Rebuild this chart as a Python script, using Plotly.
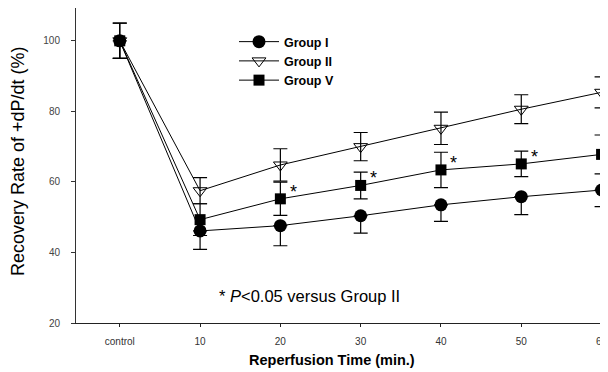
import plotly.graph_objects as go

categories = ["control", "10", "20", "30", "40", "50", "60"]
group1 = [100, 46.1, 47.6, 50.4, 53.5, 55.8, 57.7]
group1_err = [5.0, 5.2, 5.7, 4.9, 4.7, 5.1, 4.7]
group2 = [100, 57.5, 64.8, 70.0, 75.2, 80.6, 85.4]
group2_err = [5.0, 3.7, 4.6, 4.0, 4.6, 4.1, 4.4]
group5 = [100, 49.3, 55.2, 59.0, 63.4, 65.1, 67.8]
group5_err = [5.0, 4.5, 4.7, 3.8, 5.0, 3.6, 5.5]
group5_sig = [False, False, True, True, True, True, True]
y_ticks = [20, 40, 60, 80, 100]

x = list(range(len(categories)))
FONT = "Liberation Sans, Arial, sans-serif"

# page is offset by the default 8px body margin; plot area spans page x 76..608, y 8..323
PL, PT, PW, PH = 76, 8, 532, 315


def px(xp):
    return (xp - PL) / PW


def py(yp):
    return (PT + PH - yp) / PH


fig = go.Figure()
fig.add_trace(go.Scatter(
    x=x, y=group1, name="Group I", mode="lines+markers",
    line=dict(color="black", width=1),
    marker=dict(symbol="circle", size=13, color="black"),
    error_y=dict(type="data", symmetric=False, array=[0] * len(group1),
                 arrayminus=group1_err, color="black", thickness=1.2, width=7),
    cliponaxis=False,
))
fig.add_trace(go.Scatter(
    x=x, y=group2, name="Group II", mode="lines+markers",
    line=dict(color="black", width=1),
    marker=dict(symbol="triangle-down-open", size=12, color="black",
                line=dict(width=1)),
    error_y=dict(type="data", array=group2_err, color="black",
                 thickness=1.2, width=7),
    cliponaxis=False,
))
fig.add_trace(go.Scatter(
    x=x, y=group5, name="Group V", mode="lines+markers",
    line=dict(color="black", width=1),
    marker=dict(symbol="square", size=11, color="black"),
    error_y=dict(type="data", array=group5_err, color="black",
                 thickness=1.2, width=7),
    cliponaxis=False,
))

for xi, yi, s in zip(x, group5, group5_sig):
    if s:
        fig.add_annotation(x=xi, y=yi, text="*", showarrow=False,
                           xshift=13, yshift=7,
                           font=dict(family=FONT, size=18, color="black"))

fig.add_annotation(xref="paper", yref="paper", x=px(217), y=py(296),
                   xanchor="left", yanchor="middle",
                   text="* <i>P</i>&lt;0.05 versus Group II", showarrow=False,
                   font=dict(family=FONT, size=16.5, color="black"))
fig.add_annotation(xref="paper", yref="paper", x=px(332), y=py(360),
                   xanchor="center", yanchor="middle",
                   text="<b>Reperfusion Time (min.)</b>", showarrow=False,
                   font=dict(family=FONT, size=14.5, color="black"))
fig.add_annotation(xref="paper", yref="paper", x=px(18), y=py(161),
                   xanchor="center", yanchor="middle", textangle=-90,
                   text="Recovery Rate of +dP/dt (%)", showarrow=False,
                   font=dict(family=FONT, size=18, color="black"))

fig.update_layout(
    width=600, height=364,
    margin=dict(l=PL - 8, r=0, t=PT - 8, b=364 - (PT - 8) - PH),
    paper_bgcolor="white", plot_bgcolor="white",
    showlegend=True,
    legend=dict(x=px(234), y=py(27), xanchor="left",
                yanchor="top", bgcolor="rgba(0,0,0,0)",
                font=dict(family=FONT, size=12.5, color="black", weight="bold"),
                tracegroupgap=0, itemwidth=40),
    font=dict(family=FONT, color="black"),
)
fig.update_xaxes(
    range=[-0.545, 6.08], tickvals=x, ticktext=categories,
    showgrid=False, zeroline=False, showline=True, linecolor="#222",
    linewidth=1, ticks="outside", ticklen=3, tickcolor="#222",
    ticklabelstandoff=6,
    tickfont=dict(family=FONT, size=10, color="#333"),
)
fig.update_yaxes(
    range=[20, 109.3], tickvals=y_ticks,
    showgrid=False, zeroline=False, showline=True, linecolor="#333",
    linewidth=1, ticks="outside", ticklen=4, tickcolor="#333",
    ticklabelstandoff=9,
    tickfont=dict(family=FONT, size=10, color="#444"),
)

fig.write_html("out.html")
